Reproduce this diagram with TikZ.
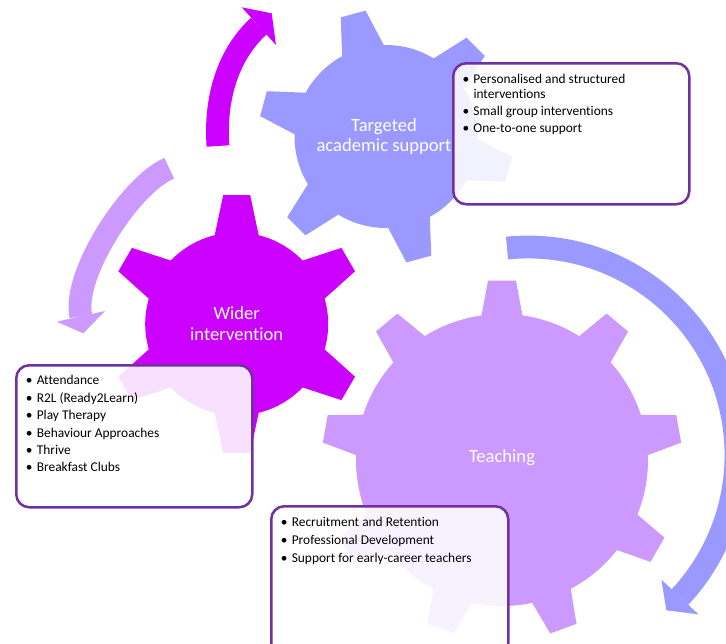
\documentclass[tikz,border=0pt]{standalone}
\usepackage{fontspec}
\setmainfont{Carlito}[Ligatures=NoCommon]
\usetikzlibrary{calc}
\definecolor{gteach}{HTML}{CC99FF}
\definecolor{gtarget}{HTML}{9999FF}
\definecolor{gwider}{HTML}{CC00FF}
\definecolor{boxline}{HTML}{7030A0}
% #1 centre, #2 body radius, #3 tip radius, #4 teeth, #5 first tooth angle,
% #6 base half angle, #7 tip half angle, #8 colour
\newcommand{\drawgear}[8]{%
  \begin{scope}[shift={(#1)}]
  \pgfmathsetmacro{\gstep}{360/#4}
  \fill[#8] (#5-#6:#2pt)
    \foreach \k [evaluate=\k as \gangle using #5+(\k-1)*\gstep] in {1,...,#4} {
      -- (\gangle-#7:#3pt) -- (\gangle+#7:#3pt) -- (\gangle+#6:#2pt)
      arc[start angle=\gangle+#6, end angle=\gangle+\gstep-#6, radius=#2pt]
    } -- cycle;
  \end{scope}}
\newcommand{\bitem}[1]{\makebox[11pt][l]{\textbullet}#1}
\newcommand{\bcont}[1]{\hspace*{11pt}#1}
\tikzset{
  infobox/.style={draw=boxline, line width=2.5pt, rounded corners=13pt, fill=white,
    fill opacity=0.88, inner sep=0pt, anchor=north west},
  listtext/.style={anchor=north west, inner sep=0pt, align=left, text=black,
    font=\fontsize{13.4}{15.3}\selectfont},
  glabel/.style={text=white, align=center, inner sep=0pt,
    font=\fontsize{18.6}{20.7}\selectfont},
  arrowband/.style={line width=22.8pt},
}
\begin{document}
\begin{tikzpicture}[x=1pt, y=-1pt]
\useasboundingbox (0,0) rectangle (726,643);
% gear centres
\coordinate (cteach) at (502,460);
\coordinate (ctarget) at (386,136.5);
\coordinate (cwider) at (236.7,324);
% gears
\drawgear{cteach}{146}{180}{9}{90}{8.07}{4.45}{gteach}
\drawgear{ctarget}{91.5}{127.5}{6}{45}{13.6}{5.8}{gtarget}
\drawgear{cwider}{91.5}{129.5}{6}{90}{13.9}{6}{gwider}
% magenta arrow
\coordinate (ma) at (218,146);
\coordinate (mc) at (258.85,26.15);
\draw[arrowband, gwider] (ma) .. controls (214.7,101.9) and (226.1,55.9) .. (mc);
\coordinate (mh1) at (241.7,7.3);
\coordinate (mh2) at (271.7,13.3);
\coordinate (mh3) at (276,45);
\fill[gwider] (mh1) -- (mh2) -- (mh3) -- cycle;
% lavender arrow
\coordinate (la) at (169.2,168.3);
\coordinate (lc) at (80.85,316.35);
\draw[arrowband, gteach] (la) .. controls (130.4,184.4) and (71.8,275.4) .. (lc);
\coordinate (lh1) at (56.7,321.7);
\coordinate (lh2) at (83.3,333.3);
\coordinate (lh3) at (105,311);
\fill[gteach] (lh1) -- (lh2) -- (lh3) -- cycle;
% blue arrow
\coordinate (bc) at (528,455);
\begin{scope}[shift={(bc)}]
\draw[arrowband, gtarget] (95.8:208pt) arc[start angle=95.8, end angle=-43.06, radius=208pt];
\fill[gtarget] (-43.06:233.4pt) -- (-48.3:208pt) -- (-43.06:182.6pt) -- cycle;
\end{scope}
% gear labels
\node[glabel] (ltarget) at (384,136.5) {Targeted\\academic support};
\node[glabel] (lwider) at (236.7,323.3) {Wider\\intervention};
\node[glabel] (lteach) at (502,458) {Teaching};
% boxes
\node[infobox, minimum width=236pt, minimum height=141pt] (box1) at (452,62) {};
\node[infobox, minimum width=236pt, minimum height=142pt] (box2) at (15,364) {};
\node[infobox, minimum width=237pt, minimum height=150pt] (box3) at (270,505) {};
% lists
\node[listtext] (list1) at (462.3,72.5) {\strut\bitem{Personalised and structured}\\
  \bcont{interventions}\\[1.6pt]
  \bitem{Small group interventions}\\[1.6pt]
  \bitem{One-to-one support}};
\node[listtext] (list2) at (25.6,374) {\strut\bitem{Attendance}\\[2.1pt]
  \bitem{R2L (Ready2Learn)}\\[2.1pt]
  \bitem{Play Therapy}\\[2.1pt]
  \bitem{Behaviour Approaches}\\[2.1pt]
  \bitem{Thrive}\\[2.1pt]
  \bitem{Breakfast Clubs}};
\node[listtext] (list3) at (280.6,516) {\strut\bitem{Recruitment and Retention}\\[2.6pt]
  \bitem{Professional Development}\\[2.6pt]
  \bitem{Support for early-career teachers}};
\end{tikzpicture}
\end{document}
